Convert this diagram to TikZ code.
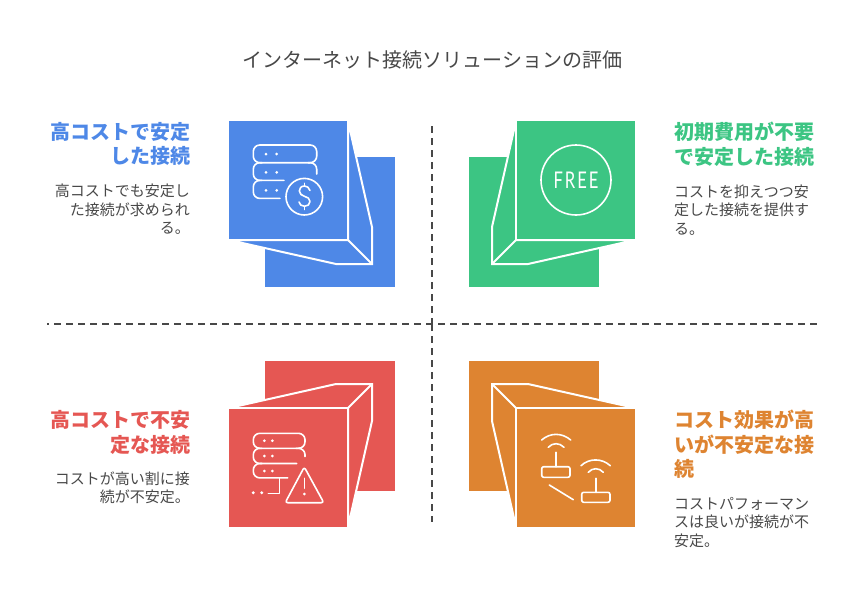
\documentclass[tikz,border=0pt]{standalone}
\usepackage{fontspec}
\setmainfont{Noto Sans CJK JP}
\newfontfamily\freefont[LetterSpace=12]{Lato}
\usetikzlibrary{positioning}

\definecolor{coolblue}{HTML}{4E88E7}
\definecolor{coolgreen}{HTML}{3CC583}
\definecolor{coolred}{HTML}{E55753}
\definecolor{coolorange}{HTML}{DE8431}
\definecolor{inkgray}{HTML}{484848}

\tikzset{
  headtext/.style={inner sep=0pt,font=\fontsize{20}{24.5}\selectfont\bfseries},
  bodytext/.style={inner sep=0pt,text=inkgray,font=\fontsize{15}{18.5}\selectfont},
  iconline/.style={draw=white,line width=1.6pt,line cap=round,line join=round},
  icondot/.style={fill=white},
  divider/.style={draw=inkgray,line width=2pt,dash pattern=on 7pt off 5pt},
}

\newcommand{\blockcube}[2]{%
  \begin{scope}[#1]
    \fill[#2] (265,157) rectangle (395,287);
    \filldraw[#2,draw=white,line width=2pt] (348,121) -- (372,227) -- (372,264) -- (336,264) -- (229,240) -- (348,240) -- cycle;
    \fill[#2] (229,121) rectangle (347,239);
    \draw[draw=white,line width=2pt] (348,240) -- (372,264);
  \end{scope}}

\begin{document}
\begin{tikzpicture}[x=1pt,y=-1pt]
  \useasboundingbox (0,0) rectangle (864,600);

  % title
  \node[inner sep=0pt,text=inkgray,font=\fontsize{20}{24}\selectfont] (title) at (432.5,60) {インターネット接続ソリューションの評価};

  % dividers
  \coordinate (vtop) at (432,126);
  \coordinate (vmid) at (432,324);
  \coordinate (vbot) at (432,522);
  \coordinate (hleft) at (47,324);
  \coordinate (hright) at (817,324);
  \draw[divider] (vtop) -- (vmid);
  \draw[divider] (vmid) -- (vbot);
  \draw[divider,dash phase=5pt] (hleft) -- (hright);

  % cubes
  \blockcube{}{coolblue}
  \blockcube{shift={(864,0)},xscale=-1}{coolgreen}
  \blockcube{shift={(0,648)},yscale=-1}{coolred}
  \blockcube{shift={(864,648)},xscale=-1,yscale=-1}{coolorange}

  % server and dollar
  \draw[iconline,rounded corners=6.5pt] (253.3,145) rectangle (316.7,162.7);
  \draw[iconline,rounded corners=6.5pt] (284,180.4) -- (253.3,180.4) -- (253.3,162.7) -- (262,162.7);
  \draw[iconline,rounded corners=6.5pt] (316.7,174) -- (316.7,162.7) -- (308,162.7);
  \draw[iconline,rounded corners=6.5pt] (280,198.4) -- (253.3,198.4) -- (253.3,180.4) -- (262,180.4);
  \foreach \rowy in {154,172.3,190.3} {
    \fill[icondot] (266,\rowy) circle (1.5);
    \fill[icondot] (276.7,\rowy) circle (1.5);
  }
  \draw[iconline] (304.3,196.7) circle (18.3);
  \draw[iconline] (310,190.5) .. controls (309,187.5) and (307,186) .. (304.5,186) .. controls (301,186) and (299.3,188.5) .. (299.3,191) .. controls (299.3,194) and (302,195.5) .. (304.5,196.3) .. controls (307.5,197.2) and (310,198.5) .. (310,201.5) .. controls (310,204.5) and (307.5,206.3) .. (304.5,206.3) .. controls (301.5,206.3) and (299.5,204.5) .. (299,202);
  \draw[iconline] (304.3,183.3) -- (304.3,186);
  \draw[iconline] (304.3,206.3) -- (304.3,209.5);

  % free badge
  \draw[iconline] (576,180) circle (35);
  \node[inner sep=0pt,text=white,font=\freefont\fontsize{23}{23}\selectfont] (freelabel) at (576,180) {\scalebox{.72}[1]{FREE}};

  % server and warning
  \draw[iconline,rounded corners=6.5pt] (253.3,433.3) rectangle (305,448.3);
  \draw[iconline,rounded corners=6.5pt] (296.7,463.5) -- (253.3,463.5) -- (253.3,448.3) -- (262,448.3);
  \draw[iconline,rounded corners=6.5pt] (305,456.5) -- (305,448.3) -- (296,448.3);
  \draw[iconline,rounded corners=6.5pt] (287.7,477.9) -- (253.3,477.9) -- (253.3,463.5) -- (262,463.5);
  \draw[iconline] (279.3,477.9) -- (279.3,493.3) -- (268.3,493.3);
  \foreach \rowy in {440.7,456,471} {
    \fill[icondot] (264.3,\rowy) circle (1.5);
    \fill[icondot] (272.3,\rowy) circle (1.5);
  }
  \fill[icondot] (253.3,492.7) circle (1.6);
  \fill[icondot] (261.7,492.7) circle (1.6);
  \draw[iconline,rounded corners=2.5pt] (304.3,467) -- (323.8,502.7) -- (285.2,502.7) -- cycle;
  \draw[iconline] (304.3,478.3) -- (304.3,488.3);
  \fill[icondot] (304.3,494) circle (1.5);

  % routers
  \draw[iconline] (541.7,440) .. controls (550,432.5) and (562,432.5) .. (570.7,440);
  \draw[iconline] (548.3,447.3) .. controls (552.5,442.5) and (559.5,442.5) .. (564,447.3);
  \draw[iconline] (556,452.3) -- (556,466.7);
  \draw[iconline,rounded corners=2pt] (541.7,466.7) rectangle (570,477.3);
  \draw[iconline] (581,465.7) .. controls (589,458) and (602,458) .. (610.3,465.7);
  \draw[iconline] (588.3,472.3) .. controls (592.5,467.5) and (599,467.5) .. (603.3,472.3);
  \draw[iconline] (595.7,478.3) -- (595.7,492.3);
  \draw[iconline,rounded corners=2pt] (581.7,492.3) rectangle (610,502.3);
  \draw[iconline] (549.3,485) -- (573.3,499.7);

  % left texts
  \node[headtext,text=coolblue,align=right,anchor=north east] (headblue) at (191,122) {高コストで安定\\した接続};
  \node[bodytext,align=right,below=18pt of headblue.south east,anchor=north east,xshift=-1pt] (bodyblue) {高コストでも安定し\\た接続が求められ\\る。};
  \node[headtext,text=coolred,align=right,anchor=north east] (headred) at (191,410.5) {高コストで不安\\定な接続};
  \node[bodytext,align=right,below=17pt of headred.south east,anchor=north east,xshift=-1pt] (bodyred) {コストが高い割に接\\続が不安定。};

  % right texts
  \node[headtext,text=coolgreen,align=left,anchor=north west] (headgreen) at (674,122) {初期費用が不要\\で安定した接続};
  \node[bodytext,align=left,below=18pt of headgreen.south west,anchor=north west] (bodygreen) {コストを抑えつつ安\\定した接続を提供す\\る。};
  \node[headtext,text=coolorange,align=left,anchor=north west] (headorange) at (674,410) {コスト効果が高\\いが不安定な接\\続};
  \node[bodytext,align=left,below=18pt of headorange.south west,anchor=north west] (bodyorange) {コストパフォーマン\\スは良いが接続が不\\安定。};
\end{tikzpicture}
\end{document}
